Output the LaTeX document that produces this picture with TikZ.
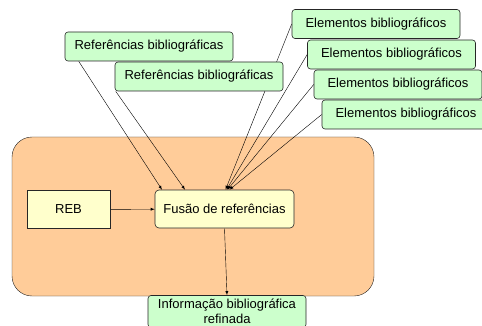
\documentclass[tikz,border=0pt]{standalone}
\usepackage{fontspec}
\setmainfont{Liberation Sans}
\usetikzlibrary{positioning, backgrounds}
\definecolor{datagreen}{HTML}{CCFFCC}
\definecolor{procorange}{HTML}{FFCC99}
\definecolor{procyellow}{HTML}{FFFFCC}

\begin{document}
\begin{tikzpicture}[-latex, x=1pt, y=-1pt, inner sep=0pt,
      font=\fontsize{13}{15.5}\selectfont, semithick,
      data/.style={rectangle, rounded corners=3pt, draw=black!85, fill=datagreen,
        minimum width=168pt, minimum height=29pt},
      proc/.style={rectangle, draw=black!85, fill=procyellow, minimum height=38pt},
      group/.style={rectangle, rounded corners=20pt, draw=black!85, fill=procorange}]
      \clip (0,0) rectangle (482,326);
      % elementos
      \node[data] (elem_1) at(376,24) {Elementos bibliográficos};
      \node[data] (elem_2) at(391.5,54.5) {Elementos bibliográficos};
      \node[data] (elem_3) at(398,84.5) {Elementos bibliográficos};
      \node[data] (elem_4) at(406,114.5) {Elementos bibliográficos};
      % referencias
      \node[data] (ref_1) at(149,46.5) {Referências bibliográficas};
      \node[data] (ref_2) at(199,76.5) {Referências bibliográficas};
      % processo
      \node[proc, minimum width=83pt] (reb) at(68.5,209.5) {REB};
      \node[proc, rounded corners=4pt, minimum width=139pt] (fusao) at(224.5,209) {Fusão de referências};
      \node[data, minimum width=158pt, minimum height=32pt, align=center] (info) at(227,311.5)
        {Informação bibliográfica\\refinada};
      \begin{pgfonlayer}{background}
        \node[group, minimum width=362pt, minimum height=159pt] (sistema) at(193,216.5) {};
        \path (elem_1.west) edge ([xshift=1]fusao.north);
        \path (elem_2.west) edge ([xshift=2]fusao.north);
        \path (elem_3.west) edge ([xshift=3]fusao.north);
        \path (elem_4.west) edge ([xshift=5]fusao.north);
        \path ([xshift=14]ref_1.south west) edge ([xshift=-62.5]fusao.north);
        \path ([xshift=1]ref_2.south west) edge ([xshift=-39.5]fusao.north);
        \path (reb) edge (fusao);
        \path (fusao.south) edge (info.north);
      \end{pgfonlayer}
  \end{tikzpicture}
\end{document}
